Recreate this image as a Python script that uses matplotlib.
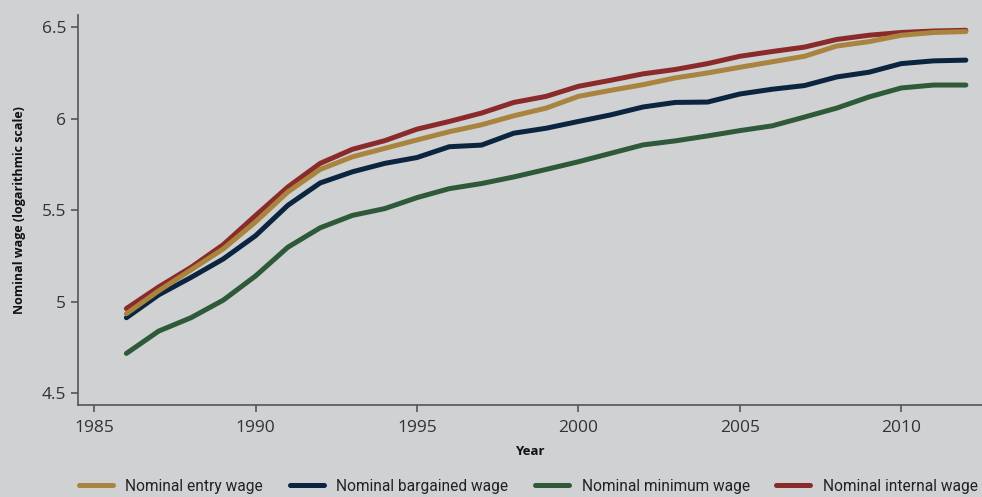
import matplotlib.pyplot as plt
from matplotlib.ticker import FuncFormatter

years = list(range(1986, 2013))

entry_wage = [4.934, 5.059, 5.173, 5.288, 5.435, 5.599, 5.722, 5.791, 5.837, 5.883,
              5.928, 5.966, 6.015, 6.057, 6.121, 6.154, 6.185, 6.222, 6.249, 6.28,
              6.31, 6.34, 6.396, 6.42, 6.455, 6.47, 6.475]
bargained_wage = [4.912, 5.037, 5.132, 5.233, 5.36, 5.526, 5.648, 5.709, 5.755, 5.787,
                  5.846, 5.855, 5.92, 5.947, 5.984, 6.02, 6.063, 6.088, 6.09, 6.134,
                  6.16, 6.18, 6.227, 6.253, 6.30, 6.315, 6.319]
minimum_wage = [4.717, 4.839, 4.912, 5.008, 5.14, 5.297, 5.403, 5.471, 5.508, 5.568,
                5.617, 5.645, 5.681, 5.722, 5.764, 5.81, 5.856, 5.878, 5.905, 5.934,
                5.96, 6.008, 6.057, 6.118, 6.167, 6.183, 6.183]
internal_wage = [4.962, 5.08, 5.187, 5.311, 5.47, 5.626, 5.755, 5.832, 5.879, 5.942,
                 5.984, 6.03, 6.088, 6.121, 6.176, 6.209, 6.244, 6.268, 6.30, 6.34,
                 6.366, 6.39, 6.432, 6.455, 6.47, 6.478, 6.482]

bg = '#d0d1d3'
plt.rcParams['font.family'] = ['Open Sans', 'DejaVu Sans']

fig = plt.figure(figsize=(9.82, 4.97), dpi=100, facecolor=bg)
ax = fig.add_axes([0.0794, 0.185, 0.9206, 0.785], facecolor=bg)

lw = 3.6
ax.plot(years, entry_wage, color='#a8843f', lw=lw, solid_capstyle='round', label='Nominal entry wage', zorder=3)
ax.plot(years, bargained_wage, color='#0b2540', lw=lw, solid_capstyle='round', label='Nominal bargained wage', zorder=2)
ax.plot(years, minimum_wage, color='#2f5a3a', lw=lw, solid_capstyle='round', label='Nominal minimum wage', zorder=2)
ax.plot(years, internal_wage, color='#8b2a2a', lw=lw, solid_capstyle='round', label='Nominal internal wage', zorder=2)

ax.set_xlim(1984.5, 2012.5)
ax.set_ylim(4.435, 6.566)
ax.set_xticks([1985, 1990, 1995, 2000, 2005, 2010])
ax.set_yticks([4.5, 5, 5.5, 6, 6.5])
ax.yaxis.set_major_formatter(FuncFormatter(lambda v, p: f'{v:g}'))

for s in ['top', 'right']:
    ax.spines[s].set_visible(False)
for s in ['left', 'bottom']:
    ax.spines[s].set_color('#555555')
    ax.spines[s].set_linewidth(1.2)
ax.tick_params(colors='#555555', labelcolor='#333333', labelsize=12.5, length=5, width=1.2)
ax.tick_params(axis='x', pad=6)

ax.set_xlabel('Year', fontsize=9.5, fontweight='bold', color='#111111', labelpad=6)
ax.set_ylabel('Nominal wage (logarithmic scale)', fontsize=9, fontweight='bold', color='#111111', labelpad=11)

leg = fig.legend(loc='lower left', bbox_to_anchor=(0.066, -0.022), ncol=4, frameon=False,
                 handlelength=2.2, handletextpad=0.8, columnspacing=1.7,
                 prop={'family': ['Roboto', 'DejaVu Sans'], 'size': 11.2})
for t in leg.get_texts():
    t.set_color('#222222')

fig.savefig('out.png', dpi=100, facecolor=bg)
